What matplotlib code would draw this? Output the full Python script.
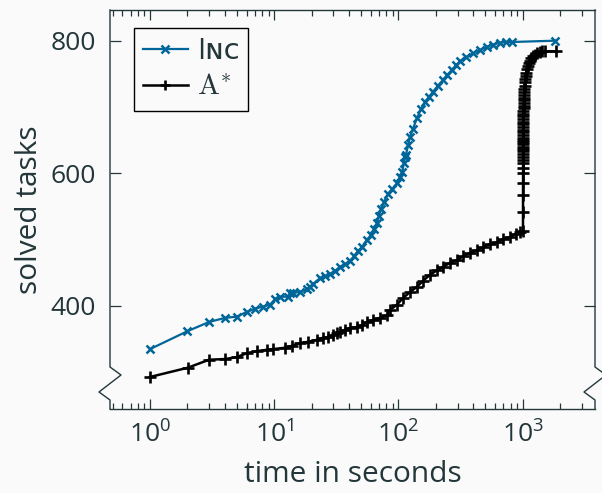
import matplotlib
matplotlib.use("Agg")
import matplotlib.pyplot as plt
from matplotlib.lines import Line2D
from matplotlib.ticker import LogLocator, FixedLocator, NullFormatter

# ---------------- data ----------------
inc_time = [1, 2, 3, 4, 5, 6, 7.0, 8.1, 9.3, 10.2, 11.1, 12.9, 13.4, 14.2, 16.1, 18.4,
            19.3, 20.5, 23.4, 25.6, 28.1, 30.9, 33.9, 37.2, 40.8, 43.9, 47.3, 50.9, 55.9,
            60.2, 63.6, 67.3, 69.8, 72.4, 76.6, 82.5, 88.8, 97.4, 103, 107, 111, 113, 115,
            120, 124, 131, 141, 152, 164, 176, 190, 208, 229, 246, 270, 291, 313, 350, 399,
            454, 517, 578, 658, 735, 821, 1823]
inc_solved = [335, 362, 376, 382, 384, 391, 396, 399, 402, 411, 414, 414, 420, 420, 421,
              426, 429, 433, 442, 445, 448, 453, 459, 463, 468, 475, 483, 489, 500, 507,
              516, 525, 536, 546, 557, 569, 576, 585, 595, 602, 616, 625, 628, 643, 655,
              667, 683, 697, 708, 715, 723, 732, 741, 748, 756, 763, 769, 775, 781, 786,
              791, 794, 797, 798, 798, 800]

astar_time = [1, 2.02, 2.99, 4.02, 5.01, 6.04, 7.27, 8.76, 9.78, 12.2, 13.9, 16.1, 18.7,
              22.1, 24.6, 27.1, 29.7, 32.0, 33.9, 37.2, 40.8, 46.4, 50.9, 55.9, 62.6, 71.3,
              81.0, 85.6, 97.4, 108.9, 124.0, 141.2, 157.9, 179.7, 204.5, 228.6, 260.2,
              296.1, 331.0, 376.8, 428.8, 479.4, 545.6, 621.0, 694.2, 790.2, 885, 953, 1007,
              1008, 1008, 1009, 1009, 1009, 1009, 1010, 1010, 1010, 1010, 1011, 1011, 1011,
              1011, 1011, 1012, 1012, 1012, 1013, 1013, 1013, 1014, 1014, 1015, 1015, 1016,
              1017, 1018, 1020, 1022, 1025, 1028, 1031, 1035, 1040, 1046, 1053, 1062, 1072,
              1085, 1100, 1120, 1145, 1175, 1210, 1250, 1300, 1370, 1440, 1520, 1850]
astar_solved = [293, 307, 319, 320, 323, 329, 332, 334, 335, 337, 340, 344, 346, 349, 352,
                353, 356, 359, 361, 364, 367, 368, 371, 376, 379, 382, 386, 394, 402, 412,
                421, 429, 438, 447, 454, 459, 465, 469, 475, 480, 484, 489, 493, 496, 501,
                504, 509, 512, 513,
                541, 567, 585, 600, 608, 615, 620, 625, 629, 633, 637, 640, 644, 647, 650,
                654, 658, 662, 666, 670, 674, 678, 682, 686, 690, 694, 698, 702, 706, 710,
                714, 718, 722, 727, 732, 737, 742, 747, 752, 757, 762, 766, 770, 774, 777,
                779, 781, 783, 784, 784, 784]

y_ticks = [400, 600, 800]
series_labels = ["I\u0274\u1d04", r"$\mathrm{A}^{*}$"]
x_label = "time in seconds"
y_label = "solved tasks"

# ---------------- style ----------------
TEXT = "#23373B"
BG = "#FAFAFA"
BLUE = "#006699"
FS = 19
LFS = 21.5

plt.rcParams["font.family"] = ["Open Sans", "DejaVu Sans"]
plt.rcParams["mathtext.fontset"] = "cm"
plt.rcParams["text.color"] = TEXT
plt.rcParams["axes.labelcolor"] = TEXT
plt.rcParams["xtick.color"] = TEXT
plt.rcParams["ytick.color"] = TEXT

W, H = 602, 493
fig = plt.figure(figsize=(W / 100, H / 100), dpi=100, facecolor=BG)
L, R, T, B = 110, 595, 10, 409
ax = fig.add_axes([L / W, 1 - B / H, (R - L) / W, (B - T) / H], facecolor=BG)

ax.plot(inc_time, inc_solved, color=BLUE, lw=1.6, marker="x", ms=6.2, mew=1.8,
        label=series_labels[0], zorder=3)
ax.plot(astar_time, astar_solved, color="black", lw=1.8, marker="+", ms=8, mew=1.9,
        label=series_labels[1], zorder=3)

ax.set_xscale("log")
ax.set_xlim(10 ** ((L - 150) / 124.2), 10 ** ((R - 150) / 124.2))
ax.set_ylim(400 - (B - 306) / 0.6633, 400 + (306 - T) / 0.6633)

ax.xaxis.set_major_locator(LogLocator(base=10, numticks=10))
ax.xaxis.set_minor_locator(LogLocator(base=10, subs=range(2, 10), numticks=20))
ax.xaxis.set_minor_formatter(NullFormatter())
ax.yaxis.set_major_locator(FixedLocator(y_ticks))

SP = "#23373B"
ax.tick_params(axis="both", which="both", direction="in", colors=TEXT,
               labelsize=FS, width=0.9, top=True, right=True)
ax.tick_params(axis="x", which="major", length=7.2, pad=9)
ax.tick_params(axis="x", which="minor", length=4.3)
ax.tick_params(axis="y", which="major", length=7.9, pad=10)
for t in ax.get_xticklines() + ax.get_yticklines():
    t.set_color(SP)

for s in ("top", "bottom"):
    ax.spines[s].set_color(SP)
    ax.spines[s].set_linewidth(1.0)
ax.spines["left"].set_visible(False)
ax.spines["right"].set_visible(False)

# broken-axis zigzags on both vertical spines
def fx(px):
    return (px - L) / (R - L)

def fy(py):
    return (B - py) / (B - T)

zz_dx = [0, 0, 11, -11, 0, 0]
zz_py = [T, 367, 375, 392, 400, B]
for base in (L, R):
    ax.add_line(Line2D([fx(base + d) for d in zz_dx], [fy(p) for p in zz_py],
                       transform=ax.transAxes, color=SP, lw=1.0, clip_on=False,
                       zorder=5))

ax.set_xlabel(x_label, fontsize=LFS, labelpad=8)
ax.set_ylabel(y_label, fontsize=LFS, labelpad=5)

leg = ax.legend(loc="upper left", bbox_to_anchor=(fx(134), fy(28)), borderaxespad=0,
                fontsize=21, frameon=True, fancybox=False, edgecolor="black",
                facecolor=BG, framealpha=1, handlelength=1.55, handletextpad=0.3,
                borderpad=0.3, labelspacing=0.25, markerscale=0.9)
leg.get_frame().set_linewidth(1.0)
for t in leg.get_texts():
    t.set_color(TEXT)

fig.savefig("out.png", dpi=100, facecolor=BG)
